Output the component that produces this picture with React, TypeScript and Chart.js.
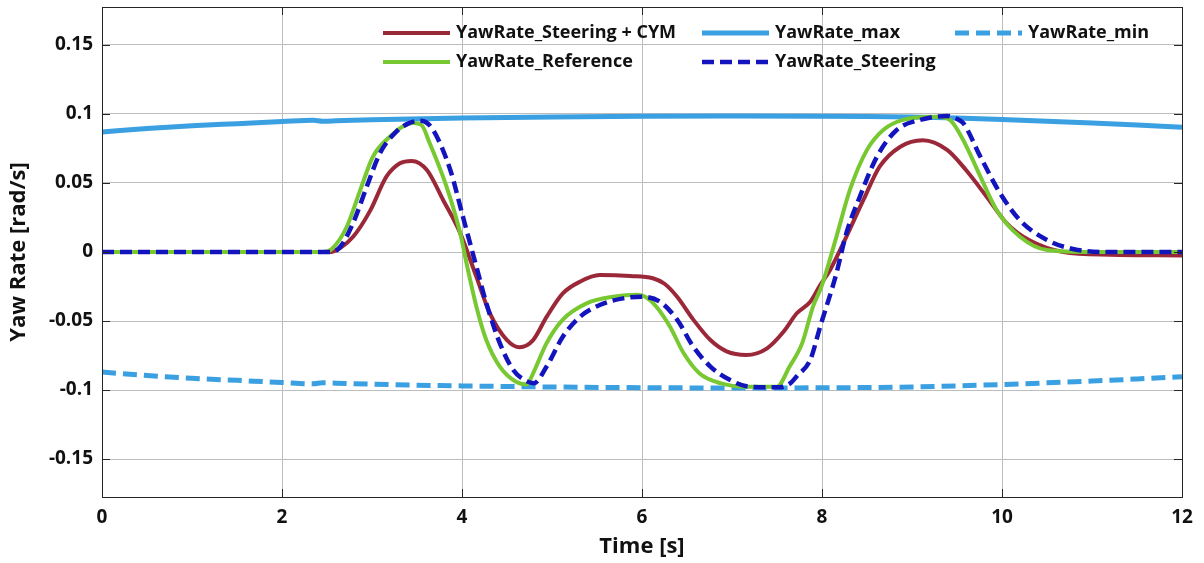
import React, { useEffect, useRef } from "react";
import { Chart, registerables } from "chart.js";

Chart.register(...registerables);

// Time [s] / yaw rate [rad/s] samples for each trace
const cymT = [0, 2.55, 2.65, 2.79, 2.98, 3.16, 3.31, 3.44, 3.61, 3.79, 3.98, 4.16, 4.31, 4.5, 4.64, 4.79, 4.94, 5.12, 5.31, 5.53, 5.87, 6.12, 6.25, 6.39, 6.57, 6.76, 6.94, 7.16, 7.39, 7.57, 7.72, 7.87, 7.98, 8.09, 8.27, 8.46, 8.64, 8.87, 9.12, 9.39, 9.6, 9.83, 10.05, 10.3, 10.68, 11.2, 12];
const cymV = [0, 0, 0.003, 0.011, 0.03, 0.0546, 0.0643, 0.066, 0.0594, 0.0377, 0.0137, -0.018, -0.0444, -0.0638, -0.069, -0.0638, -0.047, -0.03, -0.0215, -0.0167, -0.0174, -0.019, -0.023, -0.0324, -0.049, -0.0638, -0.072, -0.0746, -0.0698, -0.058, -0.0444, -0.036, -0.024, -0.013, 0.011, 0.0377, 0.0618, 0.0763, 0.081, 0.074, 0.0594, 0.04, 0.021, 0.0087, 0, -0.002, -0.0025];

const maxT = [0, 0.5, 1, 1.5, 2, 2.35, 2.45, 2.6, 3, 4, 5, 6, 7, 8, 8.5, 9, 9.5, 10, 10.5, 11, 11.5, 12];
const maxV = [0.087, 0.0895, 0.0915, 0.093, 0.0945, 0.0955, 0.0948, 0.095, 0.0958, 0.097, 0.0978, 0.0983, 0.0985, 0.0984, 0.0982, 0.0978, 0.097, 0.096, 0.0948, 0.0935, 0.092, 0.0903];

const minT = [0, 0.5, 1, 1.5, 2, 2.35, 2.45, 2.6, 3, 4, 5, 6, 7, 8, 8.5, 9, 9.5, 10, 10.5, 11, 11.5, 12];
const minV = [-0.087, -0.0895, -0.0915, -0.093, -0.0945, -0.0955, -0.0948, -0.095, -0.0958, -0.097, -0.0978, -0.0983, -0.0985, -0.0984, -0.0982, -0.0978, -0.097, -0.096, -0.0948, -0.0935, -0.092, -0.0903];

const refT = [0, 2.45, 2.55, 2.72, 2.87, 3.01, 3.2, 3.46, 3.55, 3.64, 3.83, 3.98, 4.05, 4.16, 4.27, 4.42, 4.6, 4.72, 4.79, 4.94, 5.12, 5.39, 5.68, 5.95, 6.05, 6.16, 6.31, 6.46, 6.64, 6.87, 7.16, 7.5, 7.64, 7.78, 7.9, 8.0, 8.16, 8.31, 8.5, 8.68, 8.9, 9.27, 9.42, 9.57, 9.76, 9.94, 10.2, 10.5, 11, 12];
const refV = [0, 0, 0.002, 0.0183, 0.045, 0.069, 0.0836, 0.0935, 0.092, 0.079, 0.047, 0.0137, -0.008, -0.0396, -0.0638, -0.083, -0.094, -0.096, -0.0879, -0.066, -0.049, -0.037, -0.0324, -0.031, -0.033, -0.0396, -0.054, -0.073, -0.088, -0.095, -0.0976, -0.0976, -0.083, -0.066, -0.0396, -0.024, 0.011, 0.045, 0.074, 0.0884, 0.0957, 0.098, 0.0957, 0.081, 0.0546, 0.0304, 0.011, 0.0014, 0, 0];

const steerT = [0, 2.55, 2.65, 2.79, 2.94, 3.09, 3.27, 3.4, 3.53, 3.6, 3.68, 3.87, 4.01, 4.16, 4.27, 4.42, 4.57, 4.7, 4.8, 4.94, 5.12, 5.31, 5.53, 5.79, 6.0, 6.2, 6.39, 6.57, 6.76, 6.98, 7.2, 7.53, 7.65, 7.72, 7.87, 7.98, 8.16, 8.27, 8.42, 8.61, 8.83, 9.09, 9.39, 9.48, 9.57, 9.76, 9.98, 10.2, 10.5, 10.8, 11.2, 12];
const steerV = [0, 0, 0.004, 0.021, 0.047, 0.0717, 0.0872, 0.093, 0.0951, 0.094, 0.0884, 0.0594, 0.0256, -0.0106, -0.037, -0.066, -0.0855, -0.093, -0.095, -0.083, -0.0614, -0.047, -0.0384, -0.0336, -0.0324, -0.036, -0.049, -0.0686, -0.083, -0.0928, -0.0976, -0.098, -0.095, -0.09, -0.078, -0.054, -0.0155, 0.0135, 0.04, 0.069, 0.0884, 0.0957, 0.0986, 0.097, 0.0933, 0.069, 0.0425, 0.023, 0.0087, 0.002, 0, 0];

const xTicks = [0, 2, 4, 6, 8, 10, 12];
const yTicks = [-0.15, -0.1, -0.05, 0, 0.05, 0.1, 0.15];
const yLimit = 0.1775;

const seriesNames = [
  "YawRate_Steering + CYM",
  "YawRate_max",
  "YawRate_min",
  "YawRate_Reference",
  "YawRate_Steering",
];

const toPoints = (t: number[], v: number[]) => t.map((x, i) => ({ x, y: v[i] }));

const COLORS = {
  cym: "#9B2838",
  max: "#3AA0E1",
  min: "#3AA0E1",
  ref: "#78C832",
  steer: "#1414BE",
};

const FONT = "'Open Sans', Lato, sans-serif";

// Box outline with inward-pointing tick marks on all four sides
const boxPlugin = {
  id: "axisBox",
  afterDraw(chart: any) {
    const { ctx, chartArea: a, scales } = chart;
    ctx.save();
    ctx.strokeStyle = "#262626";
    ctx.lineWidth = 1;
    const tl = 8;
    ctx.beginPath();
    xTicks.forEach((v) => {
      const px = Math.round(scales.x.getPixelForValue(v)) + 0.5;
      ctx.moveTo(px, a.bottom);
      ctx.lineTo(px, a.bottom - tl);
      ctx.moveTo(px, a.top);
      ctx.lineTo(px, a.top + tl);
    });
    yTicks.forEach((v) => {
      const py = Math.round(scales.y.getPixelForValue(v)) + 0.5;
      ctx.moveTo(a.left, py);
      ctx.lineTo(a.left + tl, py);
      ctx.moveTo(a.right, py);
      ctx.lineTo(a.right - tl, py);
    });
    ctx.stroke();
    ctx.strokeRect(Math.round(a.left) + 0.5, Math.round(a.top) + 0.5, Math.round(a.right - a.left), Math.round(a.bottom - a.top));
    ctx.restore();
  },
};

// Three-column legend placed inside the plot area
const legendPlugin = {
  id: "insideLegend",
  afterDraw(chart: any) {
    const { ctx } = chart;
    const slots = [
      { ds: 0, x: 383, y: 33 },
      { ds: 1, x: 702, y: 33 },
      { ds: 2, x: 955, y: 33 },
      { ds: 3, x: 383, y: 62 },
      { ds: 4, x: 702, y: 62 },
    ];
    ctx.save();
    ctx.font = `bold 18px ${FONT}`;
    ctx.textBaseline = "middle";
    ctx.textAlign = "left";
    slots.forEach((s) => {
      const d = chart.data.datasets[s.ds];
      ctx.strokeStyle = d.borderColor;
      ctx.lineWidth = d.borderWidth;
      ctx.setLineDash(d.borderDash || []);
      ctx.beginPath();
      ctx.moveTo(s.x, s.y);
      ctx.lineTo(s.x + 67, s.y);
      ctx.stroke();
      ctx.setLineDash([]);
      ctx.fillStyle = "#111";
      ctx.fillText(d.label, s.x + 73, s.y);
    });
    ctx.restore();
  },
};

export default function App() {
  const ref = useRef<HTMLCanvasElement>(null);

  useEffect(() => {
    if (!ref.current) return;
    const line = (i: number, t: number[], v: number[], color: string, width: number, dash: number[], order: number) => ({
      label: seriesNames[i],
      data: toPoints(t, v),
      borderColor: color,
      backgroundColor: color,
      borderWidth: width,
      borderDash: dash,
      pointRadius: 0,
      fill: false,
      cubicInterpolationMode: "monotone" as const,
      order,
    });

    const chart = new Chart(ref.current, {
      type: "line",
      data: {
        datasets: [
          line(0, cymT, cymV, COLORS.cym, 4, [], 4),
          line(1, maxT, maxV, COLORS.max, 5, [], 3),
          line(2, minT, minV, COLORS.min, 5, [14, 7], 2),
          line(3, refT, refV, COLORS.ref, 4, [], 1),
          line(4, steerT, steerV, COLORS.steer, 4.5, [12, 6], 0),
        ],
      },
      options: {
        responsive: false,
        animation: false,
        layout: { padding: { top: 7, right: 22, left: 0, bottom: 0 } },
        plugins: {
          legend: { display: false },
          tooltip: { enabled: false },
        },
        scales: {
          x: {
            type: "linear",
            min: 0,
            max: 12,
            afterBuildTicks: (s: any) => {
              s.ticks = xTicks.map((value) => ({ value }));
            },
            afterFit: (s: any) => {
              s.height = 66;
              s.paddingLeft = 0;
              s.paddingRight = 0;
            },
            grid: { color: "#bdbdbd", lineWidth: 1, drawTicks: false },
            border: { display: false },
            ticks: {
              padding: 9,
              color: "#111",
              font: { family: FONT, size: 19, weight: "bold" },
              maxRotation: 0,
              callback: (v: any) => String(v),
            },
            title: {
              display: true,
              text: "Time [s]",
              color: "#111",
              font: { family: FONT, size: 22, weight: "bold" },
              padding: { top: 0, bottom: 3 },
            },
          },
          y: {
            type: "linear",
            min: -yLimit,
            max: yLimit,
            afterBuildTicks: (s: any) => {
              s.ticks = yTicks.map((value) => ({ value }));
            },
            afterFit: (s: any) => {
              s.width = 102;
              s.paddingTop = 0;
              s.paddingBottom = 0;
            },
            grid: { color: "#bdbdbd", lineWidth: 1, drawTicks: false },
            border: { display: false },
            ticks: {
              padding: 9,
              color: "#111",
              font: { family: FONT, size: 19, weight: "bold" },
              callback: (v: any) => String(Math.round(Number(v) * 100) / 100),
            },
            title: {
              display: true,
              text: "Yaw Rate [rad/s]",
              color: "#111",
              font: { family: FONT, size: 22, weight: "bold" },
              padding: { top: 6, bottom: 0 },
            },
          },
        },
      },
      plugins: [boxPlugin, legendPlugin],
    });
    return () => chart.destroy();
  }, []);

  return (
    <div style={{ position: "absolute", left: 0, top: 0, width: 1204, height: 563, background: "#fff" }}>
      <canvas ref={ref} width={1204} height={563} />
    </div>
  );
}
